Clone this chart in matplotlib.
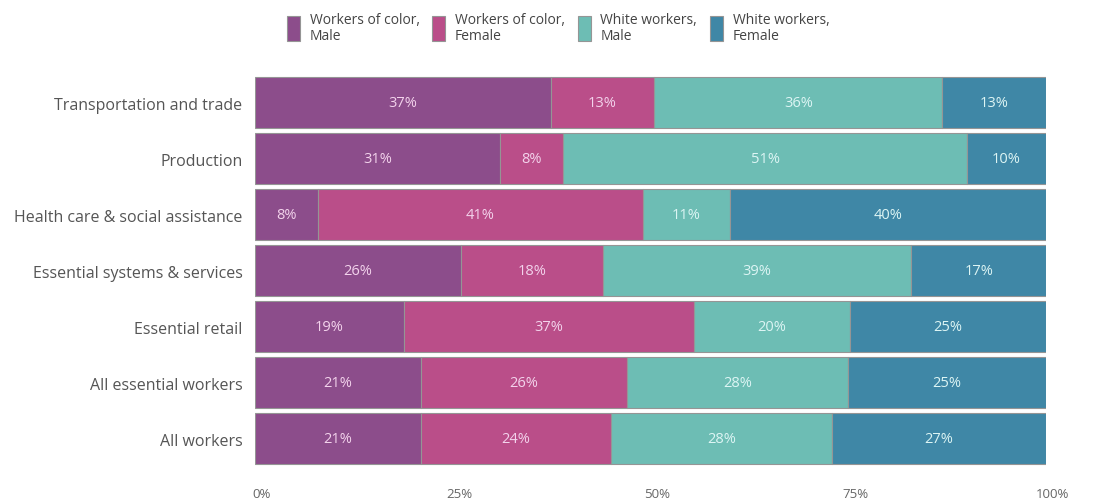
import matplotlib
matplotlib.use('Agg')
import matplotlib.pyplot as plt
import matplotlib.transforms as mtransforms
import numpy as np

categorias = ['Transportation and trade', 'Production', 'Health care & social assistance',
              'Essential systems & services', 'Essential retail', 'All essential workers',
              'All workers']
cor_masc = [37, 31, 8, 26, 19, 21, 21]
cor_fem = [13, 8, 41, 18, 37, 26, 24]
branco_masc = [36, 51, 11, 39, 20, 28, 28]
branco_fem = [13, 10, 40, 17, 25, 25, 27]
series_nomes = ['Workers of color,\nMale', 'Workers of color,\nFemale',
                'White workers,\nMale', 'White workers,\nFemale']
ticks_x = [0, 25, 50, 75, 100]

cores = ['#8C4D8B', '#BA4E89', '#6DBDB4', '#3F87A6']
cores_texto = ['#F3D3EC', '#F3D3EC', '#DDF5F4', '#DDF5F4']

plt.rcParams['font.family'] = ['Open Sans', 'DejaVu Sans']

fig = plt.figure(figsize=(11.1, 5.02), dpi=100)
ax = fig.add_axes([0.2297, 0.0687, 0.7126, 0.7809])

dados = np.array([cor_masc, cor_fem, branco_masc, branco_fem], dtype=float)
totais = dados.sum(axis=0)
y = np.arange(len(categorias))
esquerda = np.zeros(len(categorias))
for i, nome in enumerate(series_nomes):
    largura = dados[i] / totais * 100
    ax.barh(y, largura, left=esquerda, height=0.91, color=cores[i],
            edgecolor='#959595', linewidth=0.8, label=nome)
    for j in range(len(categorias)):
        ax.text(esquerda[j] + largura[j] / 2, y[j], f'{int(dados[i][j])}%',
                ha='center', va='center', color=cores_texto[i], fontsize=10.5)
    esquerda += largura

ax.set_ylim(len(categorias) - 0.5, -0.5)
ax.set_xlim(0, 100)
ax.set_yticks(y)
ax.set_yticklabels(categorias, fontsize=11.5, color='#555555')
ax.set_xticks(ticks_x)
ax.set_xticklabels([f'{t}%' for t in ticks_x], fontsize=9.5, color='#666666')
ax.tick_params(axis='y', length=0, pad=9)
ax.tick_params(axis='x', length=0, pad=15)
desloc = mtransforms.ScaledTranslation(7 / 100, 0, fig.dpi_scale_trans)
for lbl in ax.get_xticklabels():
    lbl.set_transform(lbl.get_transform() + desloc)
for s in ax.spines.values():
    s.set_visible(False)

leg = fig.legend(loc='upper left', bbox_to_anchor=(0.247, 1.0), ncol=4, frameon=False,
                 fontsize=10, handlelength=0.95, handleheight=2.4, handletextpad=0.7,
                 columnspacing=0.9, labelspacing=0)
for t in leg.get_texts():
    t.set_color('#444444')
    t.set_linespacing(1.1)

fig.savefig('out.png', dpi=100)
